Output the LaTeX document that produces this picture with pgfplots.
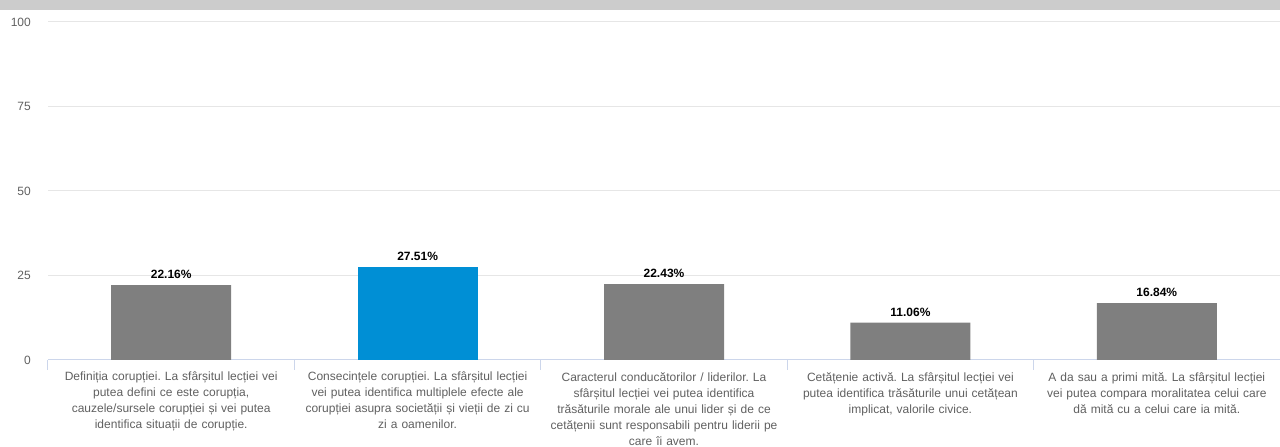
\documentclass[border=0pt]{standalone}
\usepackage{pgfplots}
\pgfplotsset{compat=1.18}
\usepackage{fontspec}
\setmainfont{Liberation Sans}
\frenchspacing
\definecolor{barGrey}{HTML}{7F7F7F}
\definecolor{barBlue}{HTML}{008FD5}
\definecolor{gridc}{HTML}{E6E6E6}
\definecolor{axisc}{HTML}{CCD6EB}
\definecolor{labc}{HTML}{606060}
\definecolor{band}{HTML}{CCCCCC}
\begin{document}
\begin{tikzpicture}[x=1pt,y=1pt]
\path[use as bounding box] (0,0) rectangle (1280,447);
\fill[band] (0,437) rectangle (1280,447);
\begin{axis}[
  at={(48pt,87pt)}, anchor=south west,
  scale only axis, width=1232pt, height=338pt,
  xmin=-0.5, xmax=4.5, ymin=0, ymax=100,
  ybar, bar width=120pt, bar shift=0pt,
  axis x line*=bottom, axis y line*=left,
  y axis line style={draw=none},
  x axis line style={draw=axisc, line width=1pt, -},
  ytick={0,25,50,75,100},
  ymajorgrids, grid style={draw=gridc, line width=1pt},
  /pgf/number format/assume math mode=true,
  xtick={0,1,2,3,4},
  minor xtick={-0.5,0.5,1.5,2.5,3.5,4.5},
  major tick length=0pt, minor tick length=10pt, tick align=outside,
  major tick style={draw=none},
  minor tick style={draw=axisc, line width=1pt},
  yticklabel style={anchor=east, inner sep=0pt, xshift=-17pt, text=labc, font=\fontsize{12}{14}\selectfont},
  xticklabel style={anchor=north, inner sep=0pt, yshift=-12pt, text width=240pt, align=center, text=labc, font=\fontsize{12}{16}\selectfont},
  xticklabels={
    {Definiția corupției. La sfârșitul lecției vei\\putea defini ce este corupția,\\cauzele/sursele corupției și vei putea\\identifica situații de corupție.},
    {Consecințele corupției. La sfârșitul lecției\\vei putea identifica multiplele efecte ale\\corupției asupra societății și vieții de zi cu\\zi a oamenilor.},
    {Caracterul conducătorilor / liderilor. La\\sfârșitul lecției vei putea identifica\\trăsăturile morale ale unui lider și de ce\\cetățenii sunt responsabili pentru liderii pe\\care îi avem.},
    {Cetățenie activă. La sfârșitul lecției vei\\putea identifica trăsăturile unui cetățean\\implicat, valorile civice.},
    {A da sau a primi mită. La sfârșitul lecției\\vei putea compara moralitatea celui care\\dă mită cu a celui care ia mită.}
  },
  nodes near coords={\pgfmathprintnumber[fixed,fixed zerofill,precision=2]{\pgfplotspointmeta}\%},
  nodes near coords style={font=\bfseries\fontsize{12}{14}\selectfont, text=black, anchor=south, inner sep=0pt, yshift=6pt},
  clip=false,
]
\addplot[fill=barGrey, draw=none] coordinates {(0,22.16) (2,22.43) (3,11.06) (4,16.84)};
\addplot[fill=barBlue, draw=none] coordinates {(1,27.51)};
\end{axis}
\end{tikzpicture}
\end{document}
